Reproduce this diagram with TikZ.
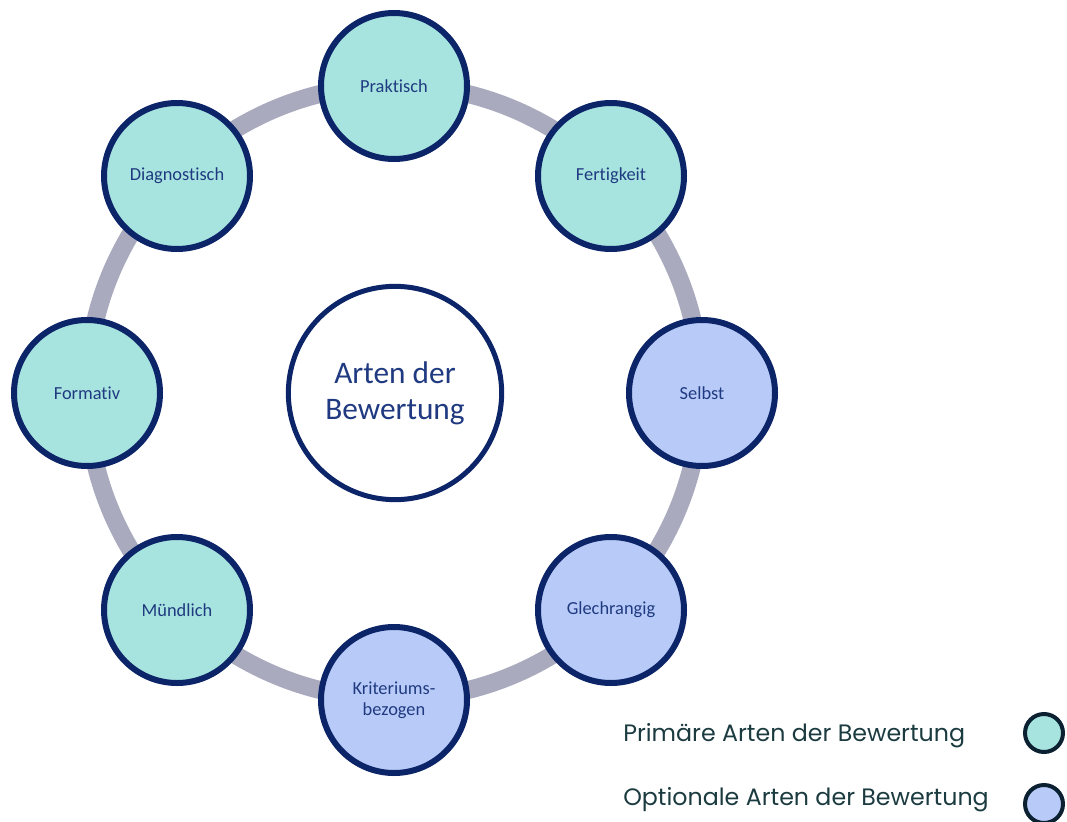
\documentclass[tikz,border=0pt]{standalone}
\usepackage{fontspec}
\setmainfont{Carlito}[Ligatures=NoCommon]
\newfontfamily\legendfont{Poppins}
\definecolor{ringgray}{HTML}{A9AABE}
\definecolor{navyline}{HTML}{0C2468}
\definecolor{navytext}{HTML}{1F3A80}
\definecolor{tealfill}{HTML}{A8E4DF}
\definecolor{bluefill}{HTML}{B8CBF8}
\definecolor{legtext}{HTML}{1B3B40}
\definecolor{legline}{HTML}{0B2030}
\begin{document}
\begin{tikzpicture}[x=0.75pt,y=-0.75pt,
  item/.style={circle,draw=navyline,line width=4.5pt,minimum size=109.5pt,inner sep=0pt,
    text=navytext,font=\fontsize{13.8}{15.75}\selectfont,align=center},
  primary/.style={item,fill=tealfill},
  optional/.style={item,fill=bluefill},
  hub/.style={circle,draw=navyline,line width=3.75pt,minimum size=160pt,inner sep=0pt,fill=white,
    text=navytext,font=\fontsize{23.5}{27}\selectfont,align=center},
  legtxt/.style={anchor=west,inner sep=0pt,text=legtext,font=\legendfont\fontsize{17.8}{19}\selectfont},
  legdot/.style={circle,draw=legline,line width=3pt,minimum size=28.5pt,inner sep=0pt},
  ring/.style={draw=ringgray,line width=13.5pt}]
\useasboundingbox (0,0) rectangle (1067,821);
\coordinate (c) at (394,392);
\draw[ring] (c) circle[radius=307];
\node[hub] (hub) at (395,393) {Arten der\\Bewertung};
\node[primary] (prak) at (394,86) {Praktisch};
\node[primary] (fert) at (611,176) {Fertigkeit};
\node[optional] (selb) at (702,393) {Selbst};
\node[optional] (glec) at (611,610) {Glechrangig};
\node[optional] (krit) at (394,700) {Kriteriums-\\bezogen};
\node[primary] (muen) at (177,610) {Mündlich};
\node[primary] (form) at (87,393) {Formativ};
\node[primary] (diag) at (177,176) {Diagnostisch};
\node[legtxt] (l1) at (623,736) {Primäre Arten der Bewertung};
\node[legtxt] (l2) at (623,800) {Optionale Arten der Bewertung};
\node[legdot,fill=tealfill] (d1) at (1044,733) {};
\node[legdot,fill=bluefill] (d2) at (1044,804) {};
\end{tikzpicture}
\end{document}
